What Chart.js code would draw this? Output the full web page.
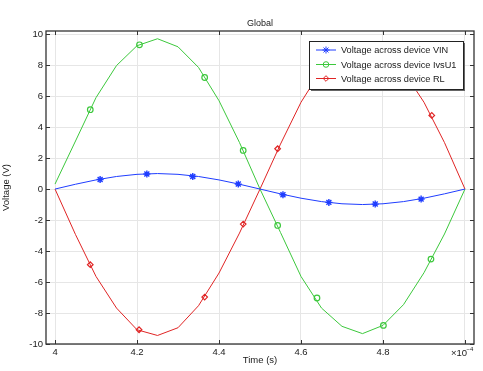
<!DOCTYPE html>
<html>
<head>
<meta charset="utf-8">
<script src="https://cdn.jsdelivr.net/npm/chart.js@4"></script>
<style>
  html, body { margin: 0; padding: 0; background: #fff; }
  #wrap { width: 483px; height: 371px; }
</style>
</head>
<body>
<div id="wrap"><canvas id="chart" width="483" height="371"></canvas></div>
<script>
// time in units of 1e-4 s
const timeSteps = [4.0, 4.05, 4.1, 4.15, 4.2, 4.25, 4.3, 4.35, 4.4, 4.45, 4.5,
  4.55, 4.6, 4.65, 4.7, 4.75, 4.8, 4.85, 4.9, 4.95, 5.0];

const vin = [0, 0.31, 0.59, 0.81, 0.95, 1.0, 0.95, 0.81, 0.59, 0.31, 0,
  -0.31, -0.59, -0.81, -0.95, -1.0, -0.95, -0.81, -0.59, -0.31, 0];
const ivsU1 = [0.32, 3.1, 5.9, 7.97, 9.25, 9.7, 9.18, 7.85, 5.7, 3.0, 0,
  -2.8, -5.64, -7.68, -8.86, -9.33, -8.8, -7.46, -5.4, -2.9, 0];
const rl = [0, -2.94, -5.64, -7.68, -9.08, -9.45, -8.95, -7.53, -5.42, -2.84, 0,
  2.9, 5.6, 7.7, 9.1, 9.5, 9.0, 7.6, 5.6, 3.0, 0];

// marker positions along each curve
const vinMarkT = [4.11, 4.224, 4.336, 4.447, 4.556, 4.668, 4.781, 4.893];
const vinMarkV = [0.62, 0.97, 0.81, 0.32, -0.37, -0.86, -0.97, -0.65];
const ivsMarkT = [4.086, 4.206, 4.365, 4.459, 4.543, 4.639, 4.801, 4.917];
const ivsMarkV = [5.12, 9.31, 7.2, 2.49, -2.35, -7.03, -8.8, -4.52];
const rlMarkT = [4.086, 4.205, 4.365, 4.459, 4.543, 4.919];
const rlMarkV = [-4.88, -9.08, -6.97, -2.26, 2.6, 4.75];

const xTicks = [4, 4.2, 4.4, 4.6, 4.8, 5];
const yTicks = [-10, -8, -6, -4, -2, 0, 2, 4, 6, 8, 10];

const seriesNames = ['Voltage across device VIN', 'Voltage across device IvsU1', 'Voltage across device RL'];
const colors = ['#1f3dff', '#3cc83c', '#e02424'];
const markerStyles = ['star', 'circle', 'rectRot'];
const markerRadius = [3.5, 2.8, 2.8];
const markerWidth = [1.4, 1.2, 1.2];

const FONT = 'Liberation Sans, Arial, sans-serif';
const TEXT = '#1a1a1a';

const toXY = (xs, ys) => xs.map((x, i) => ({ x: x, y: ys[i] }));

function lineSet(label, ys, color) {
  return {
    label: label,
    data: toXY(timeSteps, ys),
    borderColor: color,
    borderWidth: 1,
    pointRadius: 0,
    tension: 0,
    fill: false,
  };
}

function markSet(xs, ys, i) {
  return {
    label: '',
    data: toXY(xs, ys),
    showLine: false,
    borderColor: colors[i],
    pointBorderColor: colors[i],
    pointBackgroundColor: 'rgba(0,0,0,0)',
    pointStyle: markerStyles[i],
    pointRadius: markerRadius[i],
    pointBorderWidth: markerWidth[i],
  };
}

const frameAndText = {
  id: 'frameAndText',
  afterDatasetsDraw(chart) {
    const { ctx, chartArea: a, scales } = chart;
    ctx.save();
    // inward ticks
    ctx.strokeStyle = '#333';
    ctx.lineWidth = 1;
    ctx.beginPath();
    xTicks.forEach(t => {
      const px = Math.round(scales.x.getPixelForValue(t)) + 0.5;
      ctx.moveTo(px, a.top); ctx.lineTo(px, a.top + 4);
      ctx.moveTo(px, a.bottom); ctx.lineTo(px, a.bottom - 4);
    });
    yTicks.forEach(t => {
      const py = Math.round(scales.y.getPixelForValue(t)) + 0.5;
      ctx.moveTo(a.left, py); ctx.lineTo(a.left + 4, py);
      ctx.moveTo(a.right, py); ctx.lineTo(a.right - 4, py);
    });
    ctx.stroke();
    // frame
    ctx.lineWidth = 1.3;
    ctx.strokeRect(a.left, a.top, a.right - a.left, a.bottom - a.top);

    // title
    ctx.fillStyle = TEXT;
    ctx.font = '9px ' + FONT;
    ctx.textAlign = 'center';
    ctx.textBaseline = 'middle';
    ctx.fillText('Global', (a.left + a.right) / 2, 24);

    // exponent label
    ctx.textAlign = 'left';
    ctx.font = '9.5px ' + FONT;
    ctx.fillText('\u00d710', 451, 353);
    ctx.font = '6px ' + FONT;
    ctx.fillText('\u22124', 466.5, 349);

    // legend
    const lx = 309.5, ly = 41.5, lw = 154, lh = 48;
    ctx.fillStyle = '#666';
    ctx.fillRect(lx + 1.5, ly + 1.5, lw, lh);
    ctx.fillStyle = '#fff';
    ctx.fillRect(lx, ly, lw, lh);
    ctx.strokeStyle = '#222';
    ctx.lineWidth = 1;
    ctx.strokeRect(lx, ly, lw, lh);
    const rows = [50, 64.5, 78.5];
    seriesNames.forEach((name, i) => {
      const y = rows[i];
      ctx.strokeStyle = colors[i];
      ctx.lineWidth = 1;
      ctx.beginPath();
      ctx.moveTo(316, y); ctx.lineTo(336, y);
      ctx.stroke();
      ctx.fillStyle = 'rgba(0,0,0,0)';
      Chart.helpers.drawPoint(ctx, {
        pointStyle: markerStyles[i],
        radius: markerRadius[i],
        rotation: 0,
        borderWidth: markerWidth[i],
      }, 326, y);
      ctx.fillStyle = TEXT;
      ctx.font = '9.2px ' + FONT;
      ctx.textAlign = 'left';
      ctx.textBaseline = 'middle';
      ctx.fillText(name, 341, y + 0.5);
    });
    ctx.restore();
  }
};

new Chart(document.getElementById('chart').getContext('2d'), {
  type: 'line',
  data: {
    datasets: [
      lineSet(seriesNames[0], vin, colors[0]),
      lineSet(seriesNames[1], ivsU1, colors[1]),
      lineSet(seriesNames[2], rl, colors[2]),
      markSet(vinMarkT, vinMarkV, 0),
      markSet(ivsMarkT, ivsMarkV, 1),
      markSet(rlMarkT, rlMarkV, 2),
    ],
  },
  options: {
    responsive: false,
    animation: false,
    layout: { padding: { top: 31, right: 9, left: 0, bottom: 0 } },
    plugins: {
      legend: { display: false },
      title: { display: false },
      tooltip: { enabled: false },
    },
    scales: {
      x: {
        type: 'linear',
        min: 3.978,
        max: 5.022,
        afterBuildTicks: s => { s.ticks = xTicks.map(v => ({ value: v })); },
        afterFit: s => { s.height = 27; },
        ticks: {
          color: TEXT,
          font: { family: FONT, size: 9.5 },
          padding: 3,
          maxRotation: 0,
          callback: v => (v === 5 ? '' : String(v)),
        },
        grid: { color: '#e6e6e6', drawTicks: false },
        border: { display: false },
        title: { display: true, text: 'Time (s)', color: TEXT, font: { family: FONT, size: 9.5 }, padding: { top: 0, bottom: 5 } },
      },
      y: {
        min: -10,
        max: 10.2,
        afterBuildTicks: s => { s.ticks = yTicks.map(v => ({ value: v })); },
        afterFit: s => { s.width = 46; },
        ticks: {
          color: TEXT,
          font: { family: FONT, size: 9.5 },
          padding: 3,
          callback: v => String(v),
        },
        grid: { color: '#e6e6e6', drawTicks: false },
        border: { display: false },
        title: { display: true, text: 'Voltage (V)', color: TEXT, font: { family: FONT, size: 9.5 }, padding: { top: 1, bottom: 0 } },
      },
    },
  },
  plugins: [frameAndText],
});
</script>
</body>
</html>
